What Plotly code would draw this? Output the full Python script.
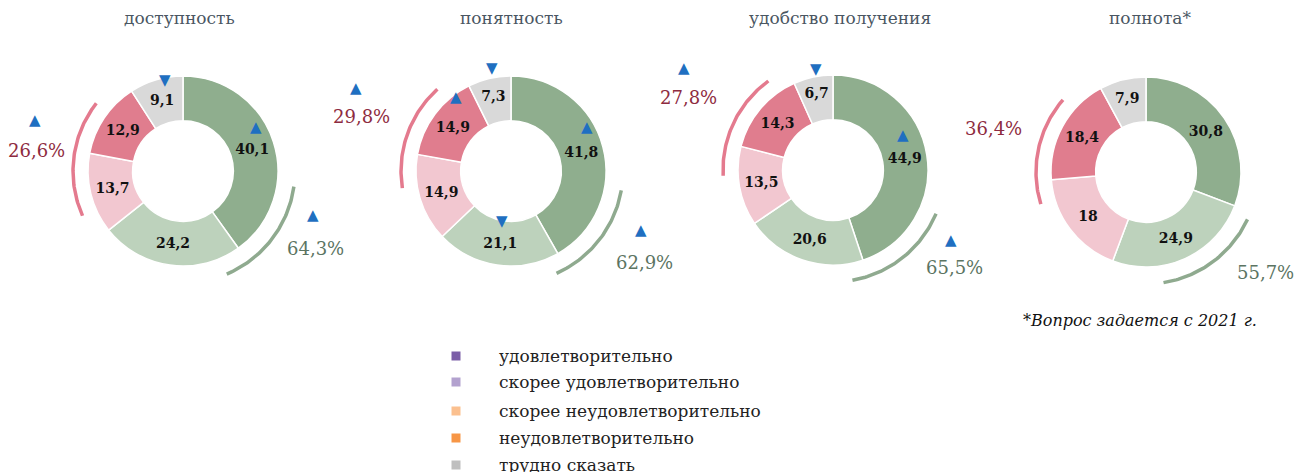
import numpy as np
import plotly.graph_objects as go

# ---- data ----
titles = ["доступность", "понятность", "удобство получения", "полнота*"]
categories = ["удовлетворительно", "скорее удовлетворительно",
              "скорее неудовлетворительно", "неудовлетворительно", "трудно сказать"]
dostupnost = [40.1, 24.2, 13.7, 12.9, 9.1]
ponyatnost = [41.8, 21.1, 14.9, 14.9, 7.3]
udobstvo = [44.9, 20.6, 13.5, 14.3, 6.7]
polnota = [30.8, 24.9, 18.0, 18.4, 7.9]
series = [dostupnost, ponyatnost, udobstvo, polnota]

# colours of the rings and of the (mismatched) legend squares
slice_colors = ["#8FAE8E", "#BDD2BC", "#F2C7D0", "#E07D8E", "#D9D9D9"]
legend_colors = ["#7B5EA7", "#B3A2CF", "#FBC08F", "#F79646", "#BFBFBF"]

W, H = 1310, 472
OFF = 8                      # browser body margin: the figure starts at (8, 8)
FW, FH = W - OFF, H - OFF    # figure size, so it ends at the window edge
FONT = "DejaVu Serif"
BLUE = "#1F6FC1"

# ---- layout helpers (window pixel positions) ----
centers = [(183, 171), (511, 171), (833, 170), (1146, 172)]
R = 95
title_x = [179, 511, 840, 1150]
pink_lbl = [(36, 150), (361, 116), (688, 97), (993, 128)]
green_lbl = [(315, 248), (644, 262), (954, 267), (1265, 272)]
pink_arc = [(246, 308), (261, 318), (267, 324), (253, 311)]
green_arc = [(98, 157), (100, 156), (113, 170), (115, 171)]
# change markers: (symbol, x, y)
arrows = [("▲", 35, 120), ("▲", 313, 215), ("▼", 165, 80), ("▲", 256, 127),
          ("▲", 356, 88), ("▲", 641, 230), ("▲", 456, 97), ("▼", 492, 68),
          ("▲", 587, 127), ("▼", 502, 221),
          ("▲", 684, 68), ("▲", 951, 240), ("▼", 816, 69), ("▲", 903, 135)]

def fmt(v):
    return f"{v:g}".replace(".", ",")

fig = go.Figure()

for vals, (cx, cy) in zip(series, centers):
    fig.add_trace(go.Pie(
        values=vals, labels=categories,
        text=[f"<b>{fmt(v)}</b>" for v in vals], textinfo="text",
        textposition="inside", insidetextorientation="horizontal",
        textfont=dict(family=FONT, size=14, color="#111"),
        marker=dict(colors=slice_colors, line=dict(color="white", width=1.5)),
        hole=0.53, sort=False, direction="clockwise", rotation=0,
        showlegend=False, hoverinfo="label+value",
        domain=dict(x=[(cx - R - OFF) / FW, (cx + R - OFF) / FW],
                    y=[(H - cy - R) / FH, (H - cy + R) / FH]),
    ))

annotations = []

# arcs around the positive / negative groups
def arc(cx, cy, a0, a1, r, color):
    th = np.radians(np.linspace(a0, a1, 60))
    fig.add_trace(go.Scatter(x=cx + r * np.sin(th), y=cy - r * np.cos(th),
                             mode="lines", line=dict(color=color, width=3.5),
                             hoverinfo="skip", showlegend=False))

for i, vals in enumerate(series):
    cx, cy = centers[i]
    arc(cx, cy, *pink_arc[i], 110, "#E47A8E")
    arc(cx, cy, *green_arc[i], 112, "#8FAA8F")
    good = vals[0] + vals[1]
    bad = vals[2] + vals[3]
    annotations.append(dict(x=pink_lbl[i][0], y=pink_lbl[i][1], text=f"{bad:.1f}%".replace(".", ","),
                            font=dict(family=FONT, size=18, color="#8E2B40")))
    annotations.append(dict(x=green_lbl[i][0], y=green_lbl[i][1], text=f"{good:.1f}%".replace(".", ","),
                            font=dict(family=FONT, size=18, color="#5B7462")))
    annotations.append(dict(x=title_x[i], y=18, text=titles[i],
                            font=dict(family=FONT, size=17, color="#4A5662")))

for sym, x, y in arrows:
    annotations.append(dict(x=x, y=y, text=sym, font=dict(family="DejaVu Sans", size=15, color=BLUE)))

annotations.append(dict(x=1140, y=320, text="<i>*Вопрос задается с 2021 г.</i>",
                        font=dict(family=FONT, size=16, color="#111")))

# hand-placed legend (last row runs off the bottom edge as in the source)
leg_y = [356, 382, 411, 438, 465]
fig.add_trace(go.Scatter(x=[456] * 5, y=leg_y, mode="markers",
                         marker=dict(symbol="square", size=9, color=legend_colors),
                         hoverinfo="skip", showlegend=False))
for name, y in zip(categories, leg_y):
    annotations.append(dict(x=497, y=y, xanchor="left", text=name,
                            font=dict(family=FONT, size=17, color="#222")))

for a in annotations:
    a.update(xref="x", yref="y", showarrow=False)

fig.update_layout(
    width=FW, height=FH, margin=dict(l=0, r=0, t=0, b=0),
    paper_bgcolor="white", plot_bgcolor="rgba(0,0,0,0)",
    xaxis=dict(range=[OFF, W], visible=False, fixedrange=True),
    yaxis=dict(range=[H, OFF], visible=False, fixedrange=True),
    annotations=annotations, showlegend=False,
)

fig.write_html("out.html")
